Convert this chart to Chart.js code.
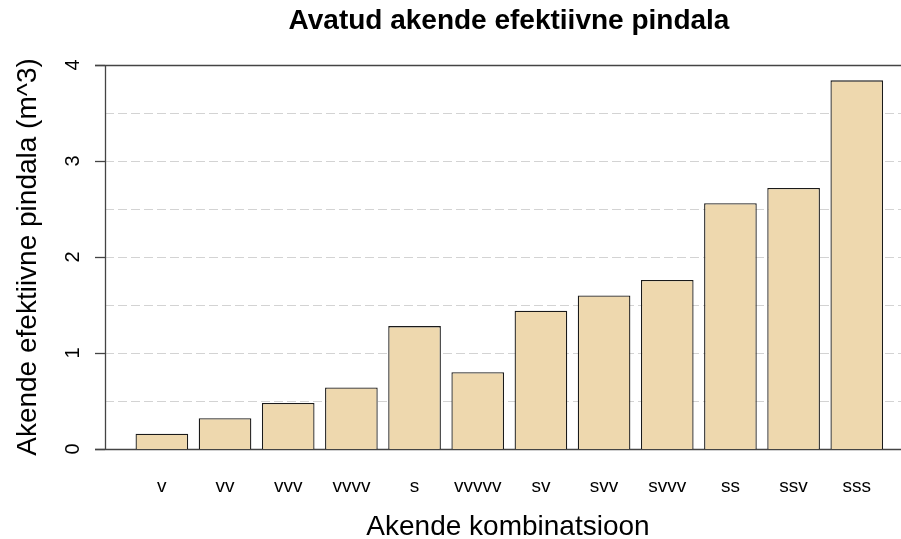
<!DOCTYPE html>
<html lang="et">
<head>
  <meta charset="UTF-8">
  <title>Avatud akende efektiivne pindala</title>
  <script src="https://cdn.jsdelivr.net/npm/chart.js"></script>
  <style>
    body {
      margin: 0;
      background-color: #ffffff;
    }

    .chart-container {
      width: 901px;
      height: 539px;
    }
  </style>
</head>
<body>
  <div class="chart-container">
    <canvas id="areaChart"></canvas>
  </div>

  <script>
    const combinations = ['v', 'vv', 'vvv', 'vvvv', 's', 'vvvvv', 'sv', 'svv', 'svvv', 'ss', 'ssv', 'sss'];
    const areas = [0.16, 0.32, 0.48, 0.64, 1.28, 0.80, 1.44, 1.60, 1.76, 2.56, 2.72, 3.84];
    const yTicks = [0, 1, 2, 3, 4];
    const yGrid = [0.5, 1, 1.5, 2, 2.5, 3, 3.5];

    const FONT = '"Liberation Sans", Arial, sans-serif';

    // R-style axes, grid and titles
    const baseDecor = {
      id: 'baseDecor',
      beforeDatasetsDraw(chart) {
        const { ctx, chartArea, scales: { y } } = chart;
        const left = chartArea.left;
        const right = chart.width;

        ctx.save();
        ctx.strokeStyle = '#d3d3d3';
        ctx.lineWidth = 1;
        ctx.setLineDash([9, 4]);
        yGrid.forEach(v => {
          const py = Math.round(y.getPixelForValue(v)) + 0.5;
          ctx.beginPath();
          ctx.moveTo(left, py);
          ctx.lineTo(right, py);
          ctx.stroke();
        });
        ctx.setLineDash([]);

        ctx.strokeStyle = '#444444';
        ctx.lineWidth = 1.3;
        [0, 4].forEach(v => {
          const py = Math.round(y.getPixelForValue(v)) + 0.5;
          ctx.beginPath();
          ctx.moveTo(left - 10, py);
          ctx.lineTo(right, py);
          ctx.stroke();
        });

        // y axis line and ticks
        ctx.beginPath();
        ctx.moveTo(left + 0.5, y.getPixelForValue(0));
        ctx.lineTo(left + 0.5, y.getPixelForValue(4));
        ctx.stroke();
        yTicks.forEach(v => {
          const py = Math.round(y.getPixelForValue(v)) + 0.5;
          ctx.beginPath();
          ctx.moveTo(left - 10, py);
          ctx.lineTo(left, py);
          ctx.stroke();
        });
        ctx.restore();
      },
      afterDraw(chart) {
        const { ctx, scales: { y } } = chart;
        ctx.save();
        ctx.fillStyle = '#000000';

        // rotated y tick labels
        ctx.font = '20px ' + FONT;
        ctx.textAlign = 'center';
        ctx.textBaseline = 'alphabetic';
        yTicks.forEach(v => {
          ctx.save();
          ctx.translate(79, y.getPixelForValue(v));
          ctx.rotate(-Math.PI / 2);
          ctx.fillText(String(v), 0, 0);
          ctx.restore();
        });

        // title
        ctx.font = 'bold 28px ' + FONT;
        ctx.fillText('Avatud akende efektiivne pindala', 509, 29);

        // axis titles
        ctx.font = '28px ' + FONT;
        ctx.fillText('Akende kombinatsioon', 508, 535);
        ctx.save();
        ctx.translate(36, 257);
        ctx.rotate(-Math.PI / 2);
        ctx.fillText('Akende efektiivne pindala (m^3)', 0, 0);
        ctx.restore();

        ctx.restore();
      }
    };

    const ctx = document.getElementById('areaChart').getContext('2d');

    new Chart(ctx, {
      type: 'bar',
      data: {
        datasets: [{
          data: areas.map((v, i) => ({ x: i, y: v })),
          backgroundColor: '#EED8AE',
          borderColor: '#1a1a1a',
          borderWidth: 1.3,
          categoryPercentage: 1,
          barPercentage: 0.8333,
        }],
      },
      options: {
        responsive: true,
        maintainAspectRatio: false,
        animation: false,
        layout: {
          padding: { left: 105, right: 0, top: 65, bottom: 0 },
        },
        scales: {
          x: {
            type: 'linear',
            offset: false,
            min: -0.9,
            max: 11.7,
            grid: { display: false },
            border: { display: false },
            afterBuildTicks: scale => {
              scale.ticks = combinations.map((_, i) => ({ value: i }));
            },
            afterFit: scale => { scale.height = 90; },
            ticks: {
              autoSkip: false,
              maxRotation: 0,
              padding: 18,
              color: '#000000',
              font: { family: FONT, size: 19 },
              callback: value => combinations[value] ?? '',
            },
          },
          y: {
            min: 0,
            max: 4,
            grid: { display: false },
            border: { display: false },
            ticks: { display: false },
            afterFit: scale => { scale.width = 0; },
          },
        },
        plugins: {
          legend: { display: false },
          tooltip: { enabled: false },
          title: { display: false },
        },
      },
      plugins: [baseDecor],
    });
  </script>
</body>
</html>
